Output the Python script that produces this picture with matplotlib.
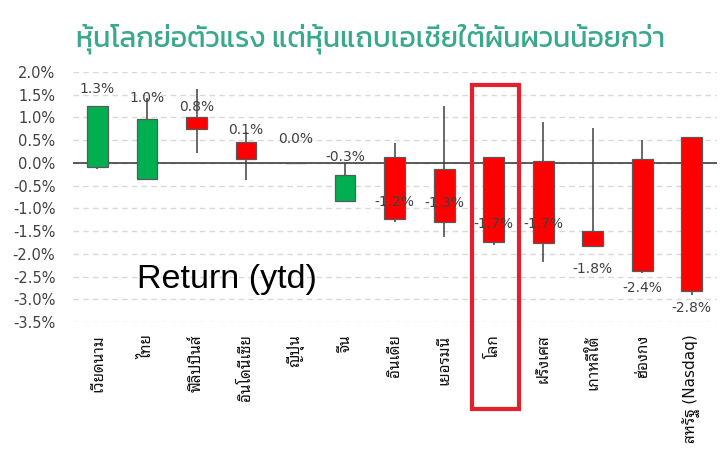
import matplotlib
matplotlib.use("Agg")
import matplotlib.pyplot as plt
from matplotlib.patches import Rectangle
import numpy as np

# data (% return, ytd)
markets = ['เวียดนาม', 'ไทย', 'ฟิลิปปินส์', 'อินโดนีเซีย', 'ญี่ปุ่น', 'จีน', 'อินเดีย',
           'เยอรมนี', 'โลก', 'ฝรั่งเศส', 'เกาหลีใต้', 'ฮ่องกง', 'สหรัฐ (Nasdaq)']
open_ = [-0.10, -0.36, 1.00, 0.46, 0.00, -0.83, 0.14, -0.14, 0.12, 0.04, -1.49, 0.09, 0.57]
close = [1.26, 0.96, 0.75, 0.08, 0.00, -0.26, -1.24, -1.29, -1.75, -1.76, -1.83, -2.37, -2.81]
high = [1.26, 1.43, 1.62, 0.67, 0.00, 0.00, 0.43, 1.26, 0.12, 0.89, 0.76, 0.51, 0.57]
low = [-0.13, -0.36, 0.21, -0.37, 0.00, -0.83, -1.31, -1.62, -1.80, -2.17, -1.83, -2.42, -2.90]
ytd = [1.3, 1.0, 0.8, 0.1, 0.0, -0.3, -1.2, -1.3, -1.7, -1.7, -1.8, -2.4, -2.8]

# where each value label sits (layout)
label_y = [1.62, 1.43, 1.24, 0.73, 0.52, 0.13, -0.85, -0.89, -1.34, -1.34, -2.34, -2.75, -3.20]
highlight = 'โลก'

thai = ['DejaVu Sans', 'Noto Sans Thai Looped']

fig = plt.figure(figsize=(7.24, 4.5), dpi=100)
ax = fig.add_axes([0.1004, 0.2844, 0.8893, 0.5556])

x = np.arange(len(markets))
o = np.array(open_)
c = np.array(close)
up = c >= o
colors = np.where(up, '#00b050', '#ff0000')

ax.vlines(x, low, high, color='#404040', lw=1.1, zorder=2)
ax.bar(x, np.abs(c - o), bottom=np.minimum(o, c), width=0.42, color=colors,
       edgecolor='#595959', linewidth=0.9, zorder=3)

ax.axhline(0, color='#404040', lw=1.2, zorder=1)

for xi, ly, v in zip(x, label_y, ytd):
    ax.text(xi, ly, '%.1f%%' % v, ha='center', va='center', fontsize=10,
            color='#404040', family='DejaVu Sans', zorder=5)

ax.set_xlim(-0.5, len(markets) - 0.5)
ax.set_ylim(-3.5, 2.0)
ticks = np.arange(-3.5, 2.01, 0.5)
ax.set_yticks(ticks)
ax.set_yticklabels(['%.1f%%' % t for t in ticks], fontsize=10.5, color='#404040')
ax.yaxis.grid(True, color='#d9d9d9', linestyle=(0, (4, 3)), lw=1.0)
ax.set_axisbelow(True)
ax.tick_params(axis='y', length=0, pad=12.5)
ax.tick_params(axis='x', length=0, pad=9)
ax.set_xticks(x)
ax.set_xticklabels(markets, rotation=90, fontsize=11, family=thai, color='#111111')
for s in ax.spines.values():
    s.set_visible(False)

# red box around the world index
k = markets.index(highlight)
box = Rectangle((k - 0.43, -5.42), 0.95, 7.14, fill=False, edgecolor='#e3202b',
                lw=3, clip_on=False, zorder=6)
ax.add_patch(box)

fig.text(0.313, 0.378, 'Return (ytd)', ha='center', va='center', fontsize=24.5,
         family='Liberation Sans', color='black')
fig.text(0.512, 0.915, 'หุ้นโลกย่อตัวแรง แต่หุ้นแถบเอเชียใต้ผันผวนน้อยกว่า', ha='center',
         va='center', fontsize=20.5, family=['Kanit', 'DejaVu Sans'], color='#38a98c')

fig.savefig('out.png', dpi=100)
